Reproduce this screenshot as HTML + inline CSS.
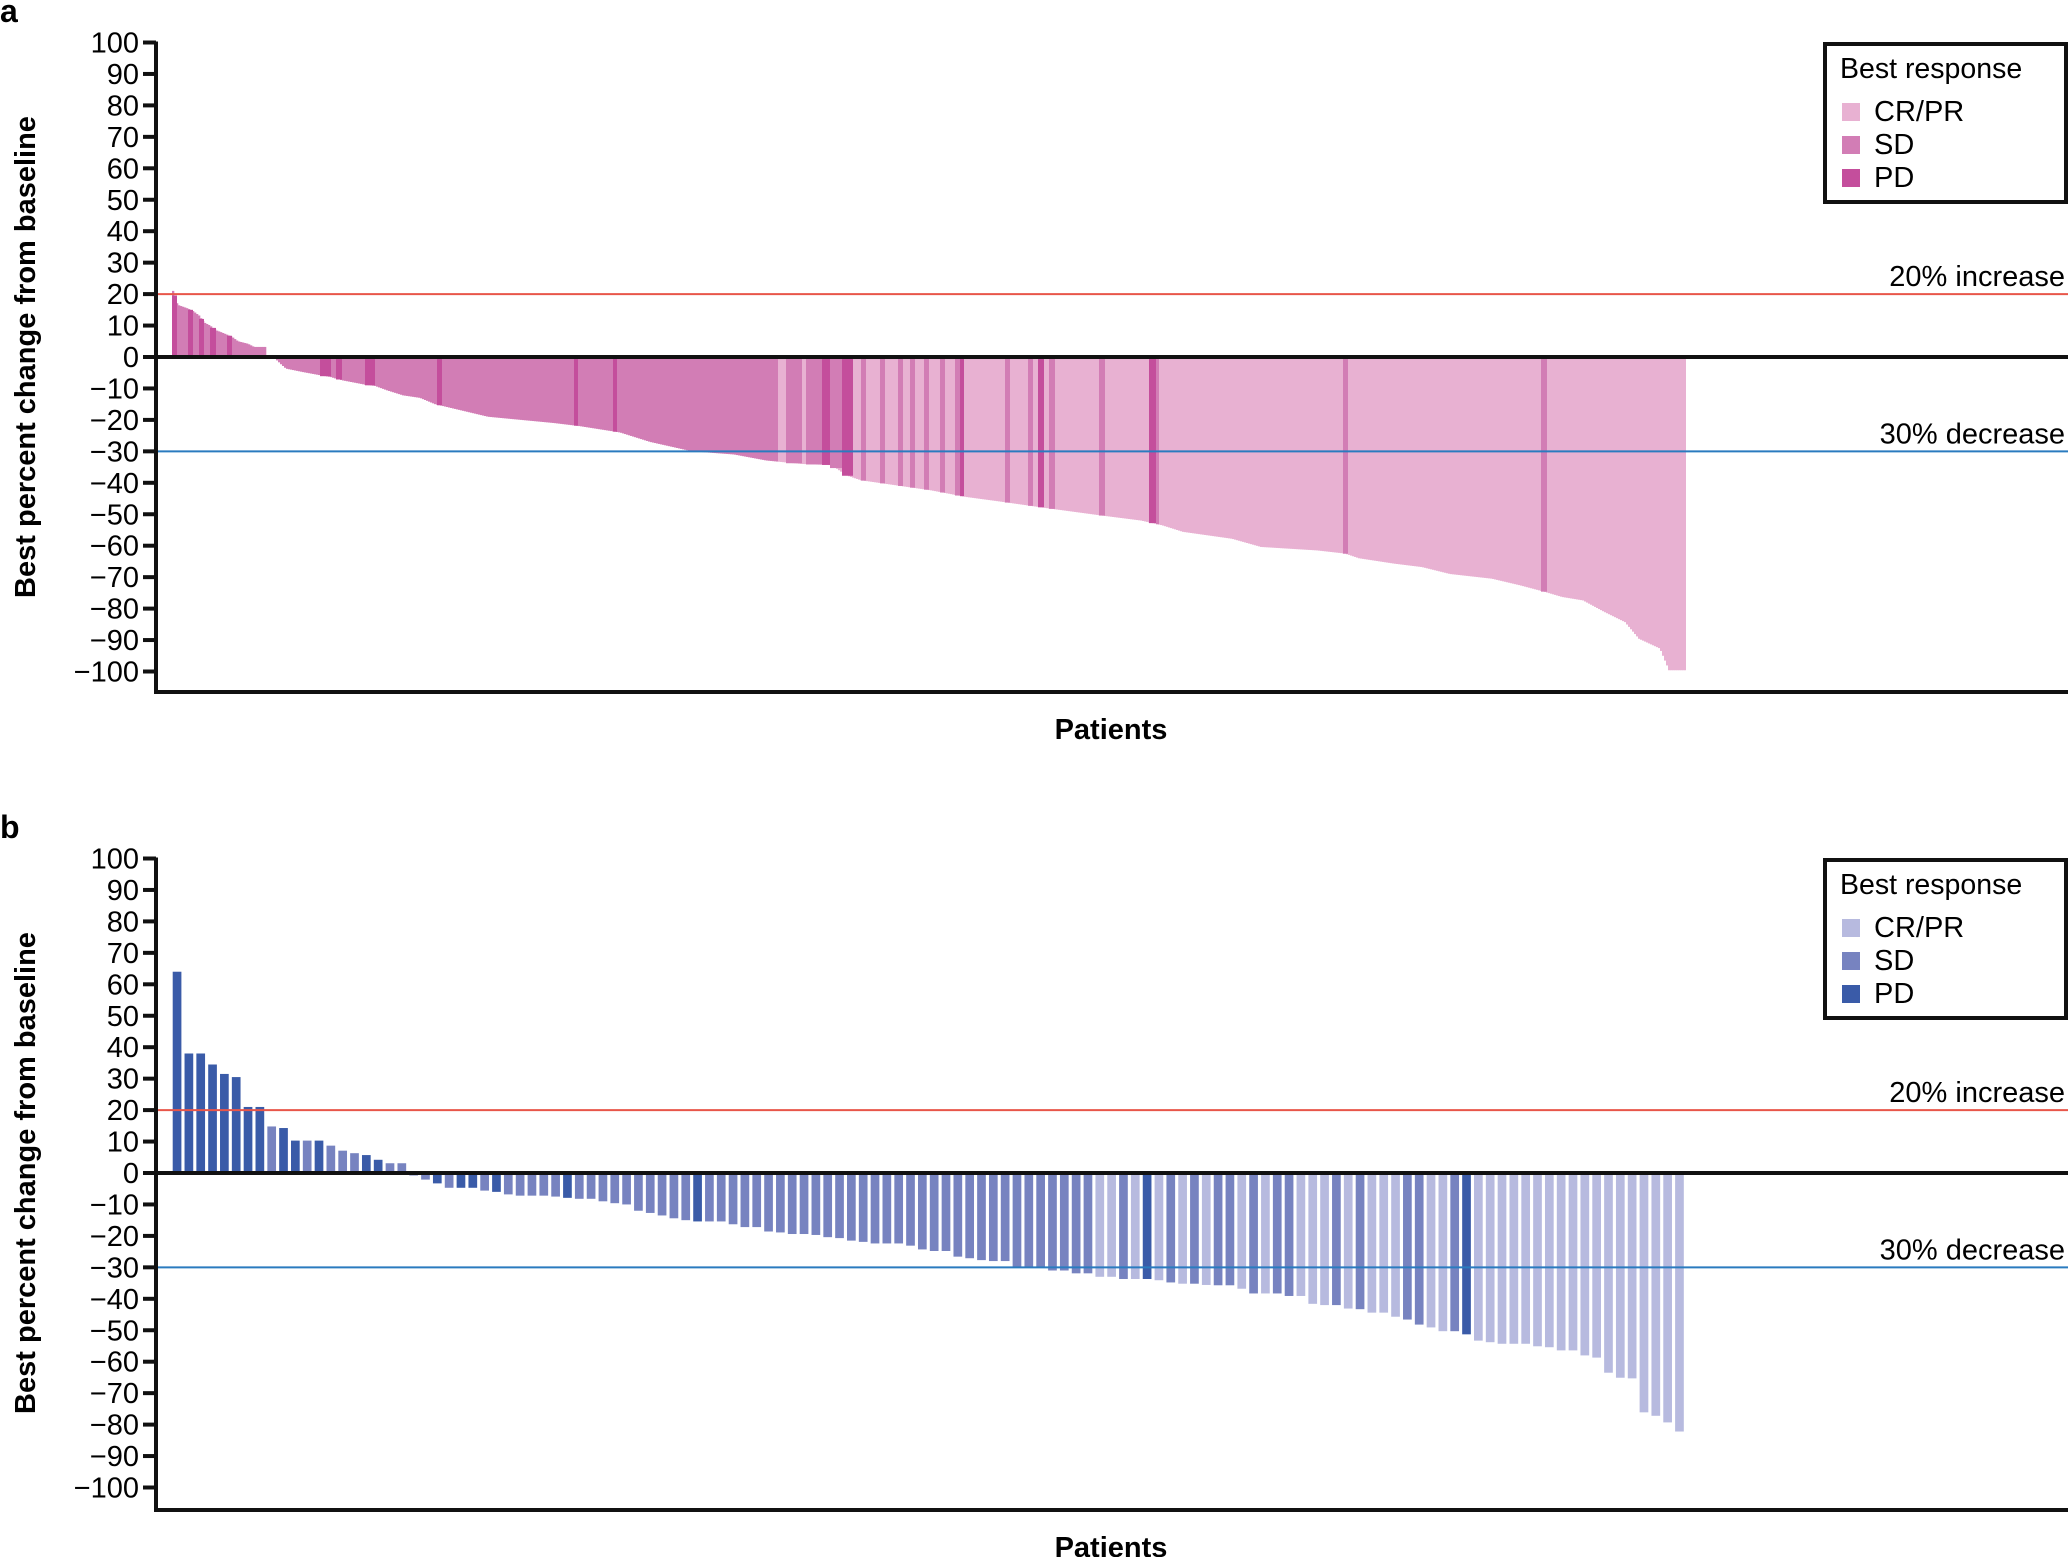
<!DOCTYPE html>
<html><head><meta charset="utf-8">
<style>
html,body{margin:0;padding:0;background:#fff;}
svg{display:block;}
text{font-family:"Liberation Sans",Arial,sans-serif;}
</style></head>
<body>
<svg id="s" width="2068" height="1557" viewBox="0 0 2068 1557" xmlns="http://www.w3.org/2000/svg">
<text x="0" y="22" font-size="32" font-weight="bold">a</text>
<text x="0" y="838" font-size="32" font-weight="bold">b</text>
<g id="ga"></g>
<g id="gb"></g>
</svg>
<script>
var NS="http://www.w3.org/2000/svg";
function el(p,tag,attrs,txt){var e=document.createElementNS(NS,tag);for(var k in attrs)e.setAttribute(k,attrs[k]);if(txt!==undefined)e.textContent=txt;p.appendChild(e);return e;}
var U=3.145;
function axes(g,z0,bottom,cols){
  var top=z0-100*U;
  el(g,'line',{x1:156,x2:2068,y1:z0-20*U,y2:z0-20*U,stroke:'#e8564a','stroke-width':2});
  el(g,'line',{x1:156,x2:2068,y1:z0+30*U,y2:z0+30*U,stroke:'#2a7bbf','stroke-width':2});
  el(g,'text',{x:2065,y:z0-20*U-8,'font-size':29,'text-anchor':'end'},'20% increase');
  el(g,'text',{x:2065,y:z0+30*U-8,'font-size':29,'text-anchor':'end'},'30% decrease');
  el(g,'line',{x1:156,x2:2068,y1:z0,y2:z0,stroke:'#111','stroke-width':4});
  el(g,'line',{x1:156,x2:156,y1:top-1,y2:bottom+2,stroke:'#111','stroke-width':4});
  el(g,'line',{x1:154,x2:2068,y1:bottom,y2:bottom,stroke:'#111','stroke-width':4});
  for(var v=100;v>=-100;v-=10){
    var y=z0-v*U;
    el(g,'line',{x1:143,x2:156,y1:y,y2:y,stroke:'#111','stroke-width':4});
    el(g,'text',{x:139,y:y+10,'font-size':29,'text-anchor':'end'},(v<0?'\u2212':'')+Math.abs(v));
  }
  el(g,'text',{transform:'translate(35,'+z0+') rotate(-90)','font-size':29,'font-weight':'bold','text-anchor':'middle'},'Best percent change from baseline');
  el(g,'text',{x:1111,y:(bottom+47),'font-size':29,'font-weight':'bold','text-anchor':'middle'},'Patients');
  var ly=z0-357;
  el(g,'rect',{x:1825,y:44+ly,width:241,height:158,fill:'#fff',stroke:'#111','stroke-width':4});
  el(g,'text',{x:1840,y:78+ly,'font-size':28.5},'Best response');
  var names=['CR/PR','SD','PD'],by=[121,154,187];
  for(var i=0;i<3;i++){
    el(g,'rect',{x:1842,y:by[i]-18+ly,width:18,height:18,fill:cols[i]});
    el(g,'text',{x:1874,y:by[i]+ly,'font-size':29},names[i]);
  }
}
(function(){
  var g=document.getElementById('ga');var z0=357;
  var CR='#e8b1d2',SD='#d27db5',PD='#c44e9c';
  var P=[[172,22],[177.5,16.6],[188,15.4],[193,14.6],[199,13.2],[204,11],[210,10],[216,8.5],[221,7.9],[227,7.1],[232,6.4],[238,5],[248,4.2],[254,3.2],[266,3.2],[266.1,0],[275,0],[275.1,-0.5],[281,-2.3],[286,-3.7],[303,-4.8],[320,-5.8],[331,-6.4],[336,-6.9],[342,-7.4],[365,-8.8],[375,-9.2],[387,-10.6],[403,-12.2],[420,-13],[435,-15],[488,-19],[554,-21],[580,-22],[620,-24],[650,-27],[692,-30],[734,-31],[766,-32.9],[801,-34],[832,-34.4],[846,-37.6],[861,-39.2],[896,-40.8],[931,-42.4],[966,-44.5],[1001,-46],[1050,-48.2],[1099,-50.3],[1141,-52],[1162,-53.5],[1183,-55.6],[1232,-57.8],[1261,-60.4],[1317,-61.5],[1345,-62.5],[1359,-64],[1394,-65.7],[1422,-66.8],[1450,-69],[1492,-70.5],[1520,-72.6],[1545,-74.7],[1562,-76.3],[1583,-77.4],[1604,-81],[1625,-84.3],[1639,-89.6],[1660,-92.7],[1669,-99.6],[1686,-99.6]];
  function f(x){for(var i=1;i<P.length;i++){if(x<=P[i][0]){var a=P[i-1],b=P[i];var t=(x-a[0])/(b[0]-a[0]);return a[1]+t*(b[1]-a[1]);}}return P[P.length-1][1];}
  function bar(x0,x1,c){var v=f((x0+x1)/2);if(Math.abs(v)<0.05)return;var y=z0-v*U;el(g,'rect',{x:x0,y:Math.min(y,z0),width:x1-x0,height:Math.abs(z0-y),fill:c});}
  for(var x=172;x<1686;x+=2){var c=x<778?SD:CR;var w=Math.min(2.3,1686-x);
    var v=f(x+1);var y=z0-v*U;el(g,'rect',{x:x,y:Math.min(y,z0),width:w,height:Math.abs(z0-y),fill:c});}
  var strips=[[172,177,PD],[188,193,PD],[199,204,PD],[210,216,PD],[227,232,PD],[320,331,PD],[336,342,PD],[365,375,PD],[437,442,PD],[574,578,PD],[613,617,PD],
   [786,802,SD],[806,822,SD],[822,830,PD],[830,842,SD],[842,853,PD],[861,866,SD],[880,885,SD],[898,903,SD],[910,915,SD],[924,929,SD],[940,945,SD],[955,962,SD],[960,964,PD],[1005,1010,SD],[1028,1033,SD],[1038,1044,PD],[1049,1055,SD],[1099,1105,SD],[1149,1156,PD],[1156,1159,SD],[1343,1348,SD],[1541,1547,SD]];
  strips.forEach(function(s){bar(s[0],s[1],s[2]);});
  axes(g,z0,692,[CR,SD,PD]);
})();
(function(){
  var g=document.getElementById('gb');var z0=1173;
  var CR='#b7badf',SD='#7783c0',PD='#3a5ba8';
  var C={c:CR,s:SD,p:PD};
  var d=[[64,'p'],[38,'p'],[38,'p'],[34.5,'p'],[31.5,'p'],[30.5,'p'],[21,'p'],[21,'p'],[14.8,'s'],[14.3,'p'],[10.3,'p'],[10.3,'s'],[10.3,'p'],[8.7,'s'],[7.1,'s'],[6.3,'s'],[5.7,'p'],[4.2,'p'],[3.1,'s'],[3.1,'s'],
  [-0.8,'s'],[-2.1,'s'],[-3.3,'p'],[-4.7,'s'],[-4.7,'p'],[-4.7,'p'],[-5.6,'s'],[-6,'p'],[-6.8,'s'],[-7.2,'s'],[-7.2,'s'],[-7.2,'s'],[-7.5,'s'],[-7.9,'p'],[-8.2,'s'],[-8.2,'s'],[-9,'s'],[-9.6,'s'],[-10,'s'],[-12,'s'],
  [-12.7,'s'],[-13.5,'s'],[-14.4,'s'],[-15,'s'],[-15.4,'p'],[-15.4,'s'],[-15.4,'s'],[-16.3,'s'],[-17.2,'s'],[-17.2,'s'],[-18.6,'s'],[-18.9,'s'],[-19.4,'s'],[-19.4,'s'],[-19.7,'s'],[-20.4,'s'],[-20.7,'s'],[-21.5,'s'],[-21.9,'s'],[-22.4,'s'],
  [-22.4,'s'],[-22.4,'s'],[-23.1,'s'],[-24.3,'s'],[-24.8,'s'],[-24.8,'s'],[-26.6,'s'],[-27.1,'s'],[-27.7,'s'],[-28,'s'],[-28,'s'],[-30,'s'],[-30,'s'],[-30,'s'],[-31,'s'],[-31,'s'],[-31.9,'s'],[-31.9,'s'],[-33,'c'],[-33,'c'],
  [-33.7,'s'],[-33.7,'c'],[-33.7,'p'],[-34.1,'c'],[-34.8,'s'],[-35.2,'c'],[-35.2,'s'],[-35.6,'c'],[-35.7,'s'],[-35.7,'s'],[-36.8,'c'],[-38.3,'s'],[-38.3,'c'],[-38.3,'s'],[-39.1,'s'],[-39.1,'c'],[-41.6,'c'],[-42,'c'],[-42,'s'],[-43.1,'c'],
  [-43.3,'s'],[-44.4,'c'],[-44.4,'c'],[-45.7,'c'],[-46.6,'s'],[-48.2,'s'],[-49.1,'c'],[-50.3,'c'],[-50.3,'s'],[-51.3,'p'],[-53.3,'c'],[-53.8,'c'],[-54.3,'c'],[-54.3,'c'],[-54.3,'c'],[-55.1,'c'],[-55.4,'c'],[-56.4,'c'],[-56.4,'c'],[-58,'c'],
  [-58.7,'c'],[-63.5,'c'],[-65.1,'c'],[-65.3,'c'],[-76.1,'c'],[-77.2,'c'],[-79.3,'c'],[-82.2,'c']];
  var pitch=11.83;
  d.forEach(function(b,i){var x=172.7+i*pitch;var y=z0-b[0]*U;el(g,'rect',{x:x,y:Math.min(y,z0),width:8.7,height:Math.abs(z0-y),fill:C[b[1]]});});
  axes(g,z0,1510,[CR,SD,PD]);
})();
</script>
</body></html>
